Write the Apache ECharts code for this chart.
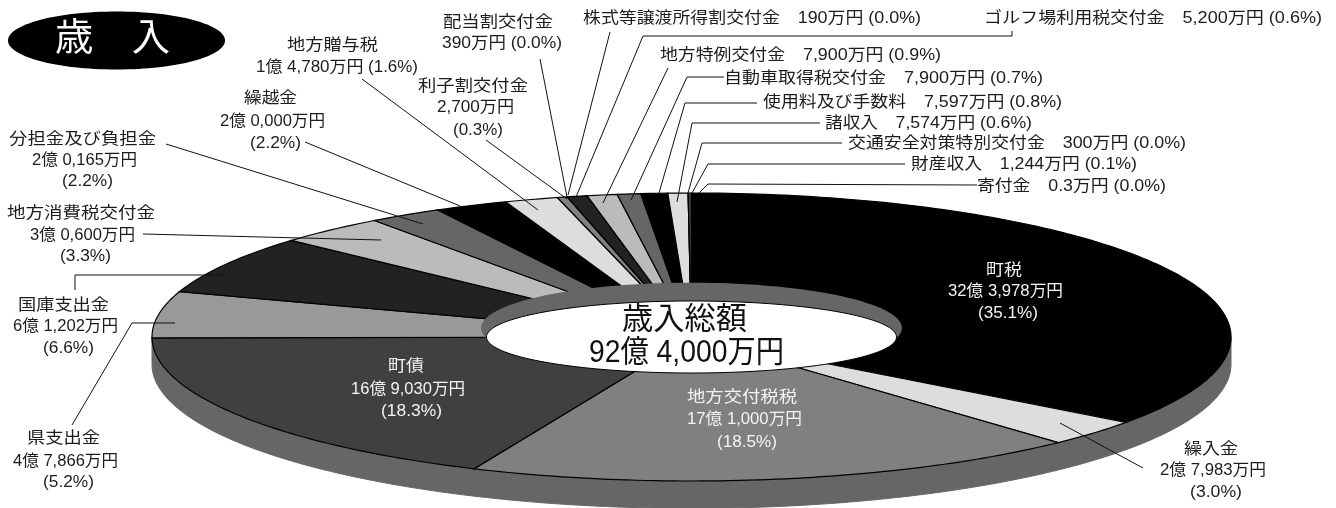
<!DOCTYPE html>
<html lang="ja">
<head>
<meta charset="utf-8">
<title>歳入</title>
<style>
  html, body { margin: 0; padding: 0; background: #fff; }
  #chart { width: 1336px; height: 508px; }
</style>
<script src="https://cdn.jsdelivr.net/npm/echarts@6/dist/echarts.min.js"></script>
</head>
<body>
<div id="chart"></div>
<script>
// Revenue items, clockwise from twelve o'clock.
const categories = [
  '町税', '繰入金', '地方交付税税', '町債', '県支出金', '国庫支出金', '地方消費税交付金',
  '分担金及び負担金', '繰越金', '地方贈与税', '利子割交付金', '配当割交付金',
  '株式等譲渡所得割交付金', 'ゴルフ場利用税交付金', '地方特例交付金', '自動車取得税交付金',
  '使用料及び手数料', '諸収入', '交通安全対策特別交付金', '財産収入', '寄付金'
];
const amounts = [
  '32億 3,978万円', '2億 7,983万円', '17億 1,000万円', '16億 9,030万円', '4億 7,866万円',
  '6億 1,202万円', '3億 0,600万円', '2億 0,165万円', '2億 0,000万円', '1億 4,780万円',
  '2,700万円', '390万円', '190万円', '5,200万円', '7,900万円', '7,900万円', '7,597万円',
  '7,574万円', '300万円', '1,244万円', '0.3万円'
];
const shares = [35.1, 3.0, 18.5, 18.3, 5.2, 6.6, 3.3, 2.2, 2.2, 1.6, 0.3, 0.0, 0.0, 0.6, 0.9, 0.7, 0.8, 0.6, 0.0, 0.1, 0.0];
const titleText = '歳　入';
const totalLines = ['歳入総額', '92億 4,000万円'];

// Repeating grey ramp for the slices.
const sliceColors = ['#000000', '#dddddd', '#808080', '#404040', '#999999', '#222222', '#bbbbbb', '#666666'];
const rimColor = '#666666';

// Disc proportions, as fractions of the outer radius on each axis.
const depth = 0.19;
const holeRx = 0.38, holeRy = 0.25;
const wellRx = 0.39, wellRy = 0.315, wellLift = 0.0625;

// Text placement per item: one [left, right, centreY] per line of text.
const labelBoxes = [
  [[986, 1022, 271], [948, 1063, 292], [978, 1038, 314]],
  [[1184, 1238, 450], [1160, 1266, 471], [1190, 1242, 493]],
  [[687, 797, 398], [687, 802, 420], [717, 777, 443]],
  [[388, 424, 367], [351, 465, 390], [381, 442, 412]],
  [[27, 100, 439], [13, 118, 462], [43, 94, 483]],
  [[18, 109, 306], [13, 118, 327], [43, 94, 349]],
  [[7, 155, 214], [30, 135, 236], [60, 111, 257]],
  [[9, 156, 140], [32, 137, 161], [62, 113, 182]],
  [[244, 297, 99], [220, 325, 122], [250, 301, 144]],
  [[287, 378, 46], [256, 418, 68]],
  [[418, 528, 87], [437, 514, 108], [453, 503, 131]],
  [[443, 553, 23], [442, 562, 44]],
  [[583, 921, 19]],
  [[984, 1322, 19]],
  [[660, 941, 56]],
  [[724, 1043, 79]],
  [[763, 1062, 103]],
  [[825, 1032, 124]],
  [[848, 1186, 144]],
  [[911, 1137, 165]],
  [[977, 1166, 187]]
];
// Items whose text sits on a dark slice.
const lightText = [0, 2, 3];

// Leader lines from the text to the slice.
const leaders = [
  [[362, 79], [538, 210]],
  [[305, 142], [460, 206]],
  [[166, 144], [423, 224]],
  [[143, 234], [381, 240]],
  [[75, 290], [75, 275], [225, 275]],
  [[72, 425], [132, 323], [175, 323]],
  [[486, 140], [567, 199]],
  [[540, 59], [567, 197]],
  [[610, 32], [568, 195]],
  [[1012, 31], [1012, 36], [643, 36], [576, 197]],
  [[668, 68], [603, 203]],
  [[724, 77], [687, 77], [631, 200]],
  [[757, 103], [685, 103], [659, 193]],
  [[820, 123], [692, 123], [677, 202]],
  [[842, 143], [702, 143], [688, 193]],
  [[905, 164], [708, 164], [692, 193]],
  [[977, 185], [708, 184], [699, 193]],
  [[1060, 423], [1143, 468]]
];

const fontFamily = '"Liberation Sans", "Noto Sans CJK JP", sans-serif';
const measurer = document.createElement('canvas').getContext('2d');

// A text element stretched horizontally to span left..right.
function fittedText(text, left, right, cy, size, color) {
  measurer.font = size + 'px ' + fontFamily;
  const natural = measurer.measureText(text).width;
  return {
    type: 'text', z: 20, silent: true,
    x: left, y: cy, scaleX: (right - left) / natural,
    style: {
      text: text, fill: color, font: size + 'px ' + fontFamily,
      textAlign: 'left', textVerticalAlign: 'middle'
    }
  };
}

function itemLines(i) {
  const pct = '(' + shares[i].toFixed(1) + '%)';
  const n = labelBoxes[i].length;
  if (n === 1) return [categories[i] + '　' + amounts[i] + ' ' + pct];
  if (n === 2) return [categories[i], amounts[i] + ' ' + pct];
  return [categories[i], amounts[i], pct];
}

const graphics = [
  { type: 'ellipse', z: 20, silent: true, shape: { cx: 116.5, cy: 40.5, rx: 108.5, ry: 29 }, style: { fill: '#000' } },
  fittedText(titleText, 55, 170, 40, 38, '#fff'),
  fittedText(totalLines[0], 622, 747, 320, 31, '#111'),
  fittedText(totalLines[1], 589, 784, 353, 31, '#111')
];
leaders.forEach(function (pts) {
  graphics.push({
    type: 'polyline', z: 15, silent: true,
    shape: { points: pts },
    style: { stroke: '#111', lineWidth: 1, fill: null }
  });
});
categories.forEach(function (_, i) {
  const color = lightText.indexOf(i) >= 0 ? '#f4f4f4' : '#1c1c1c';
  itemLines(i).forEach(function (line, k) {
    const b = labelBoxes[i][k];
    graphics.push(fittedText(line, b[0], b[1], b[2], 16, color));
  });
});

// Running totals give each slice its start and end angle.
const starts = [];
shares.reduce(function (sum, s, i) { starts[i] = sum; return sum + s; }, 0);
const shareTotal = shares.reduce(function (a, b) { return a + b; }, 0);
const toAngle = function (v) { return v / shareTotal * Math.PI * 2; };

function rimPoint(api, a, rx, ry, dy) {
  return api.coord([rx * Math.sin(a), ry * Math.cos(a) + dy]);
}
function ellipsePoints(api, rx, ry, dy) {
  const pts = [];
  for (let d = 0; d < 360; d += 2) pts.push(rimPoint(api, d * Math.PI / 180, rx, ry, dy));
  return pts;
}

const option = {
  animation: false,
  grid: { left: 152, top: 193, width: 1079, height: 288 },
  xAxis: { type: 'value', min: -1, max: 1, show: false },
  yAxis: { type: 'value', min: -1, max: 1, show: false },
  graphic: graphics,
  series: [
    {
      // Outer wall of the disc
      type: 'custom', coordinateSystem: 'cartesian2d', silent: true, clip: false,
      data: [[0, 0]],
      renderItem: function (params, api) {
        const pts = [];
        for (let d = 90; d <= 270; d += 1) pts.push(rimPoint(api, d * Math.PI / 180, 1, 1, 0));
        for (let d = 270; d >= 90; d -= 1) pts.push(rimPoint(api, d * Math.PI / 180, 1, 1, -depth));
        return { type: 'polygon', shape: { points: pts }, style: { fill: rimColor, stroke: rimColor, lineWidth: 1 } };
      }
    },
    {
      // Slices on the top face
      type: 'custom', coordinateSystem: 'cartesian2d', silent: true, clip: false,
      data: shares.map(function (s) { return [0, 0, s]; }),
      renderItem: function (params, api) {
        const i = params.dataIndex;
        const a0 = toAngle(starts[i]);
        const a1 = toAngle(starts[i] + api.value(2));
        const pts = [api.coord([0, 0])];
        const steps = Math.max(1, Math.ceil((a1 - a0) / (Math.PI / 180)));
        for (let k = 0; k <= steps; k++) pts.push(rimPoint(api, a0 + (a1 - a0) * k / steps, 1, 1, 0));
        return {
          type: 'polygon', shape: { points: pts },
          style: { fill: sliceColors[i % sliceColors.length], stroke: '#000', lineWidth: 1.2 }
        };
      }
    },
    {
      // Centre hole: inner wall, then the white opening
      type: 'custom', coordinateSystem: 'cartesian2d', silent: true, clip: false,
      data: [[0, 0]],
      renderItem: function (params, api) {
        return {
          type: 'group',
          children: [
            { type: 'polygon', shape: { points: ellipsePoints(api, wellRx, wellRy, wellLift) }, style: { fill: rimColor } },
            { type: 'polygon', shape: { points: ellipsePoints(api, holeRx, holeRy, 0) }, style: { fill: '#fff', stroke: '#000', lineWidth: 1 } }
          ]
        };
      }
    }
  ]
};

const chart = echarts.init(document.getElementById('chart'));
chart.setOption(option);
</script>
</body>
</html>
